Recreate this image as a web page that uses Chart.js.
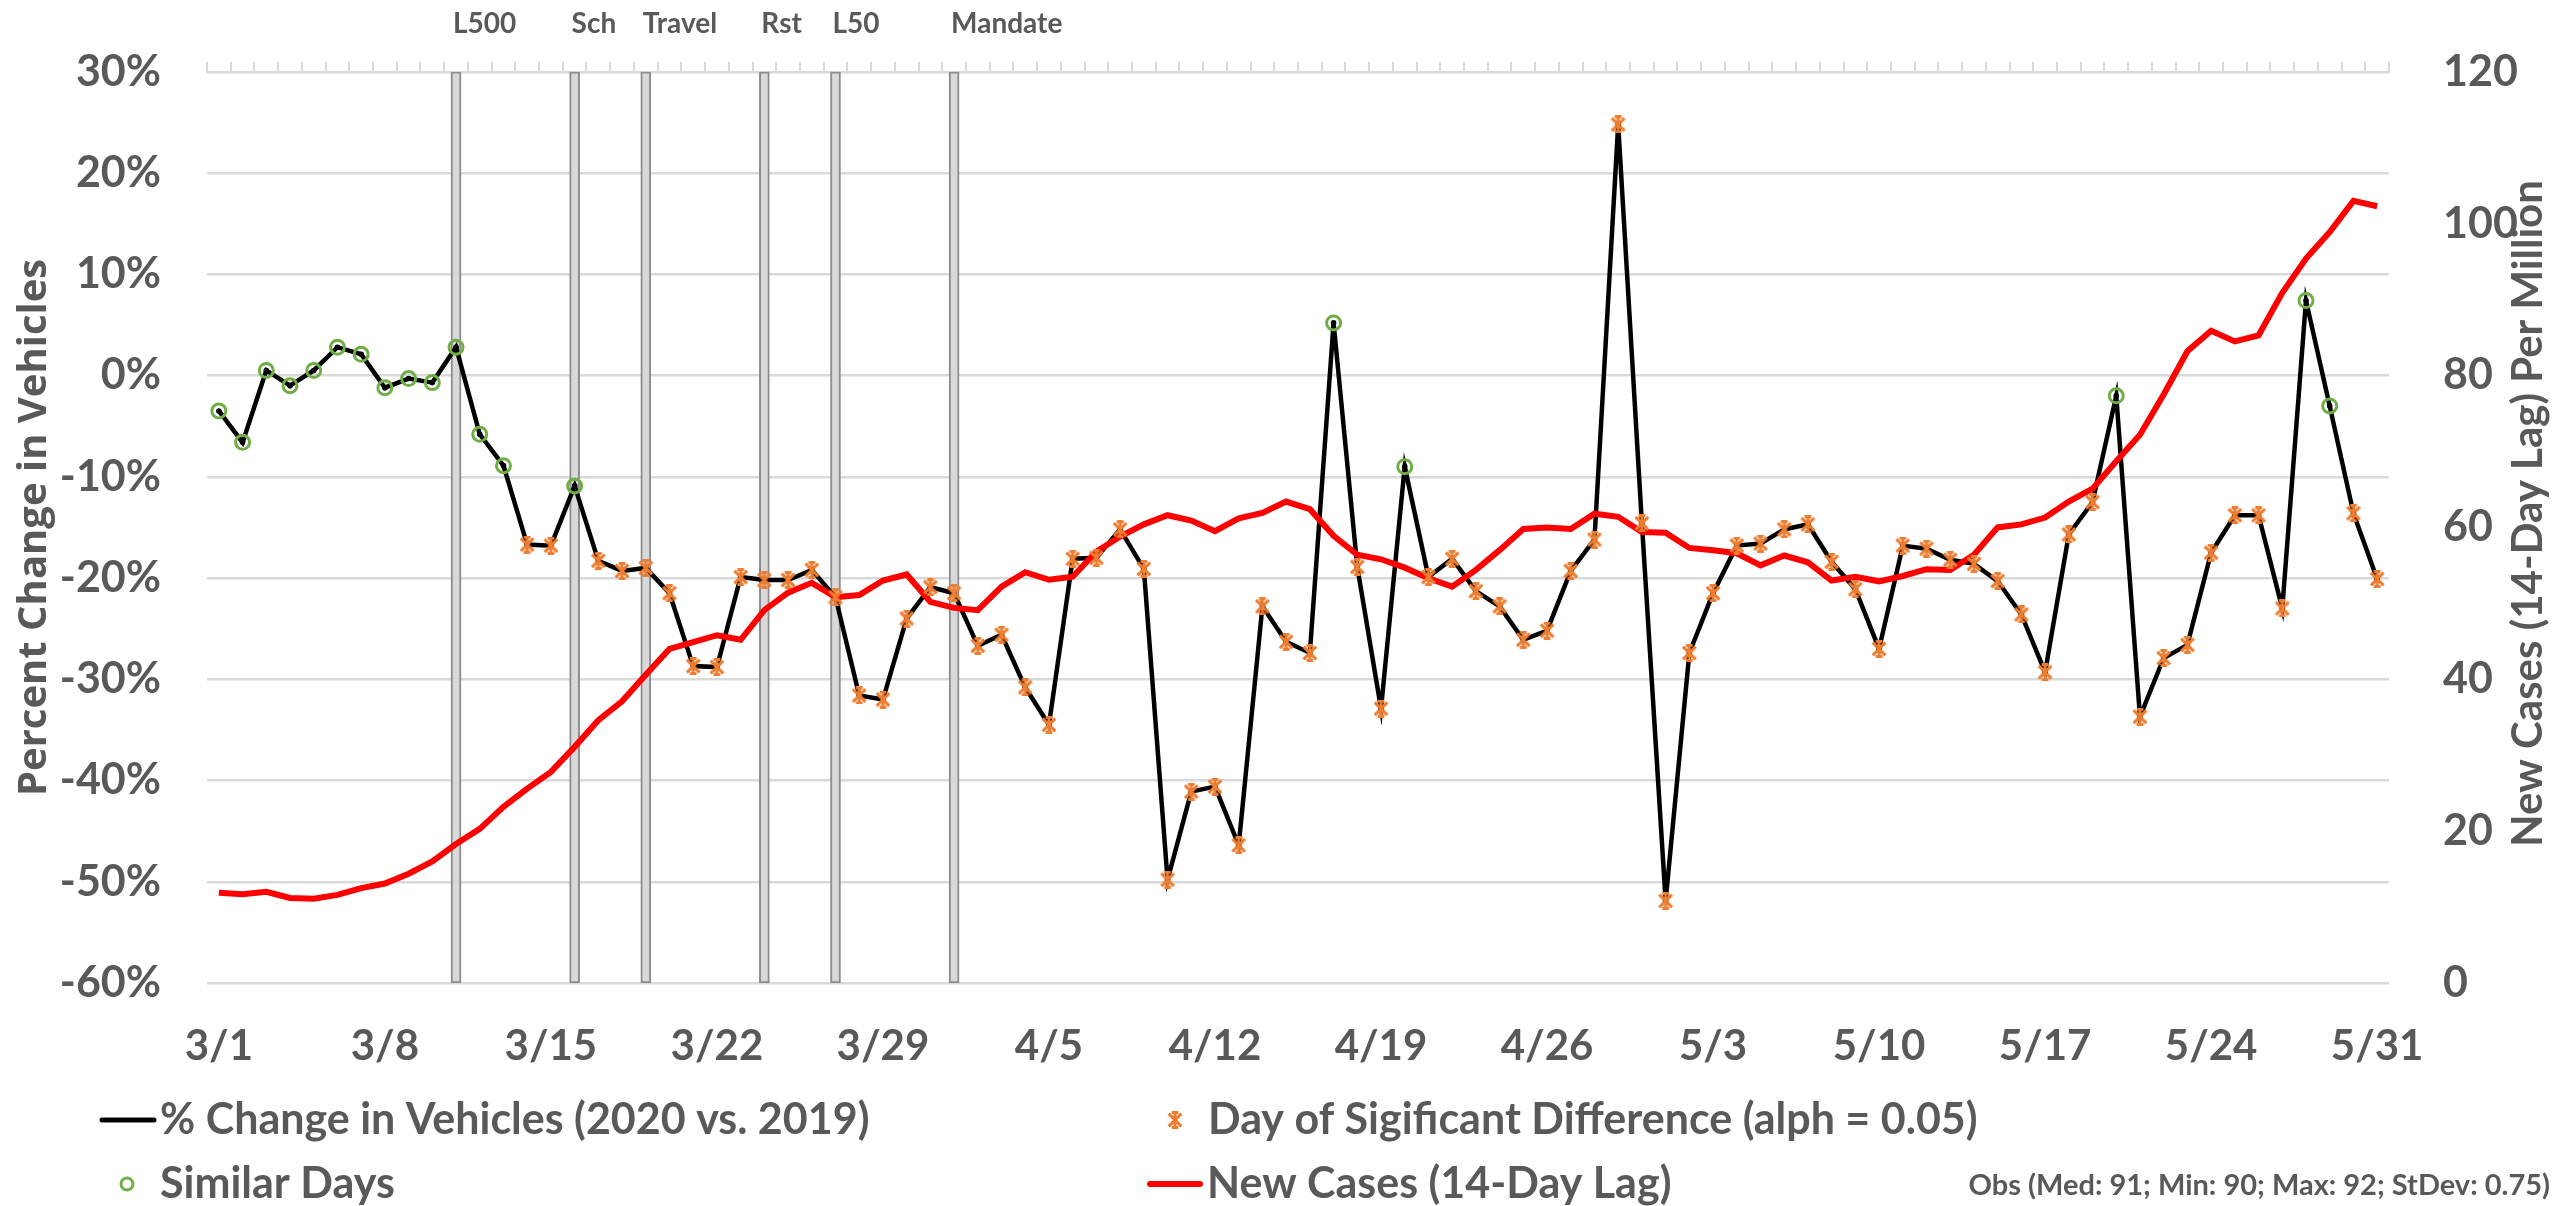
<!DOCTYPE html>
<html>
<head>
<meta charset="utf-8">
<title>Percent Change in Vehicles vs New Cases</title>
<script src="https://cdn.jsdelivr.net/npm/chart.js@4.4.0/dist/chart.umd.min.js"></script>
<style>
  html, body { margin: 0; padding: 0; background: #fff; }
  #wrap { position: relative; width: 2554px; height: 1206px; }
</style>
</head>
<body>
<div id="wrap"><canvas id="trafficChart"></canvas></div>
<script>
/*********************************************/
/*                 Chart data                */
/*********************************************/

const days = [
  "3/1","3/2","3/3","3/4","3/5","3/6","3/7","3/8","3/9","3/10","3/11","3/12","3/13","3/14","3/15","3/16",
  "3/17","3/18","3/19","3/20","3/21","3/22","3/23","3/24","3/25","3/26","3/27","3/28","3/29","3/30","3/31",
  "4/1","4/2","4/3","4/4","4/5","4/6","4/7","4/8","4/9","4/10","4/11","4/12","4/13","4/14","4/15","4/16",
  "4/17","4/18","4/19","4/20","4/21","4/22","4/23","4/24","4/25","4/26","4/27","4/28","4/29","4/30",
  "5/1","5/2","5/3","5/4","5/5","5/6","5/7","5/8","5/9","5/10","5/11","5/12","5/13","5/14","5/15","5/16",
  "5/17","5/18","5/19","5/20","5/21","5/22","5/23","5/24","5/25","5/26","5/27","5/28","5/29","5/30","5/31"
];

const xTickLabels = ["3/1","3/8","3/15","3/22","3/29","4/5","4/12","4/19","4/26","5/3","5/10","5/17","5/24","5/31"];

// % change in vehicles, 2020 vs. 2019 (left axis, percent)
const pctChange = [
  -3.5, -6.6, 0.5, -1.0, 0.5, 2.8, 2.1, -1.2, -0.3, -0.7, 2.8, -5.8, -8.9, -16.7, -16.8, -10.9,
  -18.3, -19.3, -19.0, -21.5, -28.7, -28.8, -19.9, -20.2, -20.2, -19.2, -21.9, -31.6, -32.0, -24.0, -20.9,
  -21.5, -26.7, -25.6, -30.8, -34.5, -18.1, -18.0, -15.2, -19.1, -49.8, -41.1, -40.6, -46.4, -22.8, -26.3, -27.4,
  5.2, -18.9, -32.9, -9.0, -19.9, -18.1, -21.3, -22.8, -26.1, -25.2, -19.3, -16.2, 24.8, -14.6,
  -51.9, -27.4, -21.5, -16.8, -16.6, -15.2, -14.7, -18.4, -21.1, -27.0, -16.8, -17.1, -18.2, -18.6, -20.3, -23.6,
  -29.3, -15.7, -12.5, -2.0, -33.7, -27.9, -26.6, -17.5, -13.8, -13.8, -23.0, 7.4, -3.0, -13.6, -20.1
];

// new cases per million, 14-day lag (right axis)
const newCases = [
  11.9, 11.7, 12.0, 11.2, 11.1, 11.6, 12.5, 13.1, 14.4, 16.0, 18.3, 20.3, 23.2, 25.6, 27.8, 31.1,
  34.6, 37.1, 40.6, 44.0, 44.9, 45.8, 45.2, 49.1, 51.4, 52.7, 50.8, 51.1, 53.0, 53.8, 50.2,
  49.4, 49.1, 52.2, 54.1, 53.1, 53.5, 56.8, 58.8, 60.4, 61.6, 60.9, 59.5, 61.2, 61.9, 63.4, 62.4,
  58.9, 56.4, 55.8, 54.7, 53.3, 52.2, 54.4, 57.0, 59.8, 60.0, 59.8, 61.8, 61.4, 59.4,
  59.3, 57.3, 57.0, 56.6, 55.0, 56.3, 55.4, 53.0, 53.5, 52.9, 53.6, 54.5, 54.4, 56.4, 60.0, 60.4,
  61.3, 63.4, 65.1, 68.7, 72.2, 77.5, 83.2, 85.9, 84.5, 85.3, 90.9, 95.4, 98.9, 103.0, 102.3
];

// days not significantly different from 2019 (every other day is significant)
const similarDays = ["3/1","3/2","3/3","3/4","3/5","3/6","3/7","3/8","3/9","3/10","3/11","3/12","3/13",
  "3/16","4/17","4/20","5/20","5/28","5/29"];

// policy events marked with vertical bars
const eventDays  = ["3/11","3/16","3/19","3/24","3/27","4/1"];
const eventNames = ["L500","Sch","Travel","Rst","L50","Mandate"];

const labelBlack = "% Change in Vehicles (2020 vs. 2019)";
const labelSig = "Day of Sigificant Difference (alph = 0.05)";
const labelSimilar = "Similar Days";
const labelCases = "New Cases (14-Day Lag)";
const leftTitle = "Percent Change in Vehicles";
const rightTitle = "New Cases (14-Day Lag) Per Million";
const obsNote = "Obs (Med: 91; Min: 90; Max: 92; StDev: 0.75)";

/*********************************************/
/*                  Styling                  */
/*********************************************/

const GREY_TEXT = "#595959";
const GRID = "#d9d9d9";
const ORANGE = "#ed7d31";
const GREEN = "#70ad47";

// excel style "star" marker: an x with a vertical stroke
function makeStar(size, color) {
  const c = document.createElement("canvas");
  c.width = size;
  c.height = size;
  const g = c.getContext("2d");
  const m = size / 2;
  const r = size / 2 - 1.5;
  g.strokeStyle = color;
  g.lineWidth = 3;
  g.beginPath();
  g.moveTo(m - r * 0.85, m - r * 0.85); g.lineTo(m + r * 0.85, m + r * 0.85);
  g.moveTo(m + r * 0.85, m - r * 0.85); g.lineTo(m - r * 0.85, m + r * 0.85);
  g.moveTo(m, m - r); g.lineTo(m, m + r);
  g.moveTo(m - r * 0.45, m - r); g.lineTo(m + r * 0.45, m - r);
  g.moveTo(m - r * 0.45, m + r); g.lineTo(m + r * 0.45, m + r);
  g.stroke();
  return c;
}
const starImg = makeStar(18, ORANGE);

Chart.defaults.font.family = "Lato, 'Open Sans', sans-serif";
Chart.defaults.font.weight = "bold";
Chart.defaults.color = GREY_TEXT;

// titles, event names and the legend are drawn here
const annotate = {
  id: "annotate",
  afterDraw(chart) {
    const { ctx, chartArea, scales } = chart;
    const midY = (chartArea.top + chartArea.bottom) / 2;
    ctx.save();
    ctx.fillStyle = GREY_TEXT;

    // event names over the bars
    ctx.font = "bold 28px Lato";
    ctx.textAlign = "left";
    ctx.textBaseline = "middle";
    eventDays.forEach((d, i) => {
      const x = scales.x.getPixelForValue(days.indexOf(d));
      ctx.fillText(eventNames[i], x - 3, 24);
    });

    // axis titles (both read bottom to top)
    ctx.textAlign = "center";
    ctx.save();
    ctx.translate(35, midY);
    ctx.rotate(-Math.PI / 2);
    ctx.font = "bold 40px 'Open Sans'";
    ctx.fillText(leftTitle, 0, 0);
    ctx.restore();

    ctx.save();
    ctx.translate(2528, midY - 14);
    ctx.rotate(-Math.PI / 2);
    ctx.font = "bold 42px Lato";
    ctx.fillText(rightTitle, 0, 0);
    ctx.restore();

    // legend
    ctx.font = "bold 43px Lato";
    ctx.textAlign = "left";
    const row1 = 1120, row2 = 1184;

    ctx.strokeStyle = "#000";
    ctx.lineWidth = 5;
    ctx.lineCap = "round";
    ctx.beginPath(); ctx.moveTo(102, row1); ctx.lineTo(154, row1); ctx.stroke();
    ctx.fillText(labelBlack, 160, row1);

    ctx.drawImage(starImg, 1175 - 9, row1 - 9);
    ctx.fillText(labelSig, 1208, row1);

    ctx.strokeStyle = GREEN;
    ctx.lineWidth = 3;
    ctx.beginPath(); ctx.arc(127, row2, 6, 0, Math.PI * 2); ctx.stroke();
    ctx.fillText(labelSimilar, 160, row2);

    ctx.strokeStyle = "#ff0000";
    ctx.lineWidth = 6;
    ctx.beginPath(); ctx.moveTo(1150, row2); ctx.lineTo(1200, row2); ctx.stroke();
    ctx.fillText(labelCases, 1207, row2);

    ctx.font = "bold 29px Lato";
    ctx.textAlign = "right";
    ctx.fillText(obsNote, 2550, row2 + 2);
    ctx.restore();
  }
};

/*********************************************/
/*                   Chart                   */
/*********************************************/

const ctx = document.getElementById("trafficChart");

const data = {
  labels: days,
  datasets: [
    {
      label: labelSig,
      data: pctChange.map((v, i) => (similarDays.includes(days[i]) ? null : v)),
      showLine: false,
      pointStyle: starImg,
      pointRadius: 9,
      order: 0
    },
    {
      label: labelSimilar,
      data: pctChange.map((v, i) => (similarDays.includes(days[i]) ? v : null)),
      showLine: false,
      pointStyle: "circle",
      pointRadius: 7,
      pointBorderWidth: 3,
      pointBorderColor: GREEN,
      pointBackgroundColor: "rgba(0,0,0,0)",
      order: 0
    },
    {
      label: labelCases,
      data: newCases,
      yAxisID: "y2",
      borderColor: "#ff0000",
      borderWidth: 6,
      pointRadius: 0,
      tension: 0,
      order: 1
    },
    {
      label: labelBlack,
      data: pctChange,
      borderColor: "#000",
      borderWidth: 4.5,
      pointRadius: 2.8,
      pointBorderWidth: 0,
      pointBackgroundColor: "#000",
      tension: 0,
      order: 2
    },
    {
      type: "bar",
      label: "events",
      data: days.map((d) => (eventDays.includes(d) ? 1 : null)),
      yAxisID: "yEvt",
      barThickness: 10,
      backgroundColor: GRID,
      borderColor: "#8c8c8c",
      borderWidth: 2,
      borderSkipped: false,
      order: 3
    }
  ]
};

const config = {
  type: "line",
  data: data,
  options: {
    responsive: true,
    maintainAspectRatio: false,
    animation: false,
    events: [],
    layout: { padding: 0 },
    plugins: {
      legend: { display: false },
      tooltip: { enabled: false }
    },
    scales: {
      x: {
        type: "category",
        position: "bottom",
        offset: true,
        grid: { display: false },
        border: { display: false },
        ticks: {
          autoSkip: false,
          maxRotation: 0,
          padding: 30,
          font: { size: 42 },
          color: GREY_TEXT,
          callback(v, i) {
            return xTickLabels.includes(days[i]) ? days[i] : "";
          }
        },
        afterFit(s) { s.height = 223; }
      },
      xTop: {
        type: "category",
        position: "top",
        labels: days,
        offset: true,
        grid: { offset: true, drawOnChartArea: false, drawTicks: true, tickLength: 10, color: GRID, lineWidth: 2 },
        border: { display: true, color: GRID, width: 2 },
        ticks: { display: false },
        afterFit(s) { s.height = 62; }
      },
      y: {
        position: "left",
        min: -60,
        max: 30,
        grid: { color: GRID, lineWidth: 2.5, drawTicks: false },
        border: { display: false },
        ticks: {
          stepSize: 10,
          padding: 46,
          font: { size: 43 },
          color: GREY_TEXT,
          callback: (v) => v + "%"
        },
        afterFit(s) { s.width = 207; }
      },
      y2: {
        position: "right",
        min: 0,
        max: 120,
        grid: { display: false },
        border: { display: false },
        ticks: { stepSize: 20, padding: 46, font: { size: 43 }, color: GREY_TEXT },
        afterFit(s) { s.width = 165; }
      },
      yEvt: { display: false, min: 0, max: 1 }
    }
  },
  plugins: [annotate]
};

const trafficChart = new Chart(ctx, config);
</script>
</body>
</html>
